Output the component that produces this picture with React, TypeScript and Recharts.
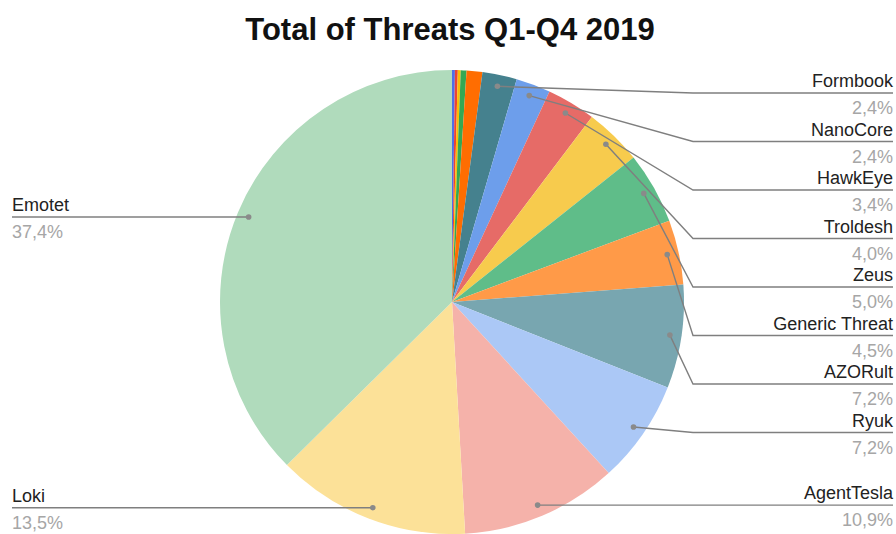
import React from 'react';
import { PieChart, Pie, Cell } from 'recharts';

// slices clockwise from 12 o'clock
const names = [
  'Other 1', 'Other 2', 'Other 3', 'Other 4', 'Other 5',
  'Formbook', 'NanoCore', 'HawkEye', 'Troldesh', 'Zeus', 'Generic Threat',
  'AZORult', 'Ryuk', 'AgentTesla', 'Loki', 'Emotet',
];
const values = [0.2, 0.2, 0.2, 0.4, 1.1, 2.4, 2.4, 3.4, 4.0, 5.0, 4.5, 7.2, 7.2, 10.9, 13.5, 37.4];
const colors = [
  '#4f6fe8', '#ea4335', '#fbbc04', '#34a853', '#ff6d01',
  '#45818e', '#6d9eeb', '#e66b67', '#f7cb4d', '#5fbd89', '#ff9a48',
  '#78a6b0', '#abc8f6', '#f5b2aa', '#fce198', '#b0dbbc',
];

const data = names.map((name, i) => ({ name, value: values[i] }));

const W = 896;
const H = 534;
const CX = 452;
const CY = 302;
const R = 232;
const DOT_R = R * 0.95;
const RAD = Math.PI / 180;
const MIN_LABEL = 2; // smaller slices get no label
const RIGHT_TOP = 93;
const GAP = 48.5;
const KNEE_X = 693;
const RIGHT_X = 893;
const LEFT_X = 12;
const FONT = '"Liberation Sans", Arial, sans-serif';

// stack label lines the same way the chart spreads them
const total = values.reduce((a, b) => a + b, 0);
const labelY: Record<number, number> = {};
(() => {
  let cum = 0;
  let prevRight = -Infinity;
  values.forEach((v, i) => {
    const mid = 90 - (360 * (cum + v / 2)) / total;
    cum += v;
    if (v < MIN_LABEL) return;
    const dy = CY - DOT_R * Math.sin(mid * RAD);
    if (Math.cos(mid * RAD) >= 0) {
      const y = Math.max(dy, prevRight + GAP, RIGHT_TOP);
      labelY[i] = y;
      prevRight = y;
    } else {
      labelY[i] = dy;
    }
  });
})();

const renderLabel = (props: any) => {
  const { cx, cy, midAngle, index, percent, name } = props;
  if (values[index] < MIN_LABEL) return <g key={`l-${index}`} />;
  const dx = cx + DOT_R * Math.cos(-midAngle * RAD);
  const dy = cy + DOT_R * Math.sin(-midAngle * RAD);
  const y = labelY[index] ?? dy;
  const right = Math.cos(-midAngle * RAD) >= 0;
  const pct = (percent * 100).toFixed(1).replace('.', ',') + '%';
  const path = right
    ? `M${dx},${dy} L${KNEE_X},${y} L${RIGHT_X},${y}`
    : `M${dx},${dy} L${LEFT_X},${y}`;
  const tx = right ? RIGHT_X : LEFT_X;
  const anchor = right ? 'end' : 'start';
  return (
    <g key={`l-${index}`}>
      <path d={path} stroke="#7f7f7f" strokeWidth={1.4} fill="none" />
      <circle cx={dx} cy={dy} r={2.8} fill="#8a8a8a" />
      <text x={tx} y={y - 6} textAnchor={anchor} fontSize={18} fill="#222" fontFamily={FONT}>
        {name}
      </text>
      <text x={tx} y={y + 21} textAnchor={anchor} fontSize={18} fill="#a6a6a6" fontFamily={FONT}>
        {pct}
      </text>
    </g>
  );
};

export default function App() {
  return (
    <div style={{ position: 'absolute', left: 0, top: 0, width: W, height: H, background: '#fff' }}>
      <svg width={W} height={60} style={{ position: 'absolute', left: 0, top: 0 }}>
        <text x={450} y={40} textAnchor="middle" fontSize={31} fontWeight="bold" fill="#111" fontFamily={FONT}>
          Total of Threats Q1-Q4 2019
        </text>
      </svg>
      <div style={{ position: 'absolute', left: 0, top: 0 }}>
        <PieChart width={W} height={H} margin={{ top: 0, right: 0, bottom: 0, left: 0 }}>
          <Pie
            data={data}
            dataKey="value"
            nameKey="name"
            cx={CX}
            cy={CY}
            outerRadius={R}
            startAngle={90}
            endAngle={-270}
            stroke="none"
            label={renderLabel}
            labelLine={false}
            isAnimationActive={false}
          >
            {data.map((d, i) => (
              <Cell key={d.name} fill={colors[i]} />
            ))}
          </Pie>
        </PieChart>
      </div>
    </div>
  );
}
